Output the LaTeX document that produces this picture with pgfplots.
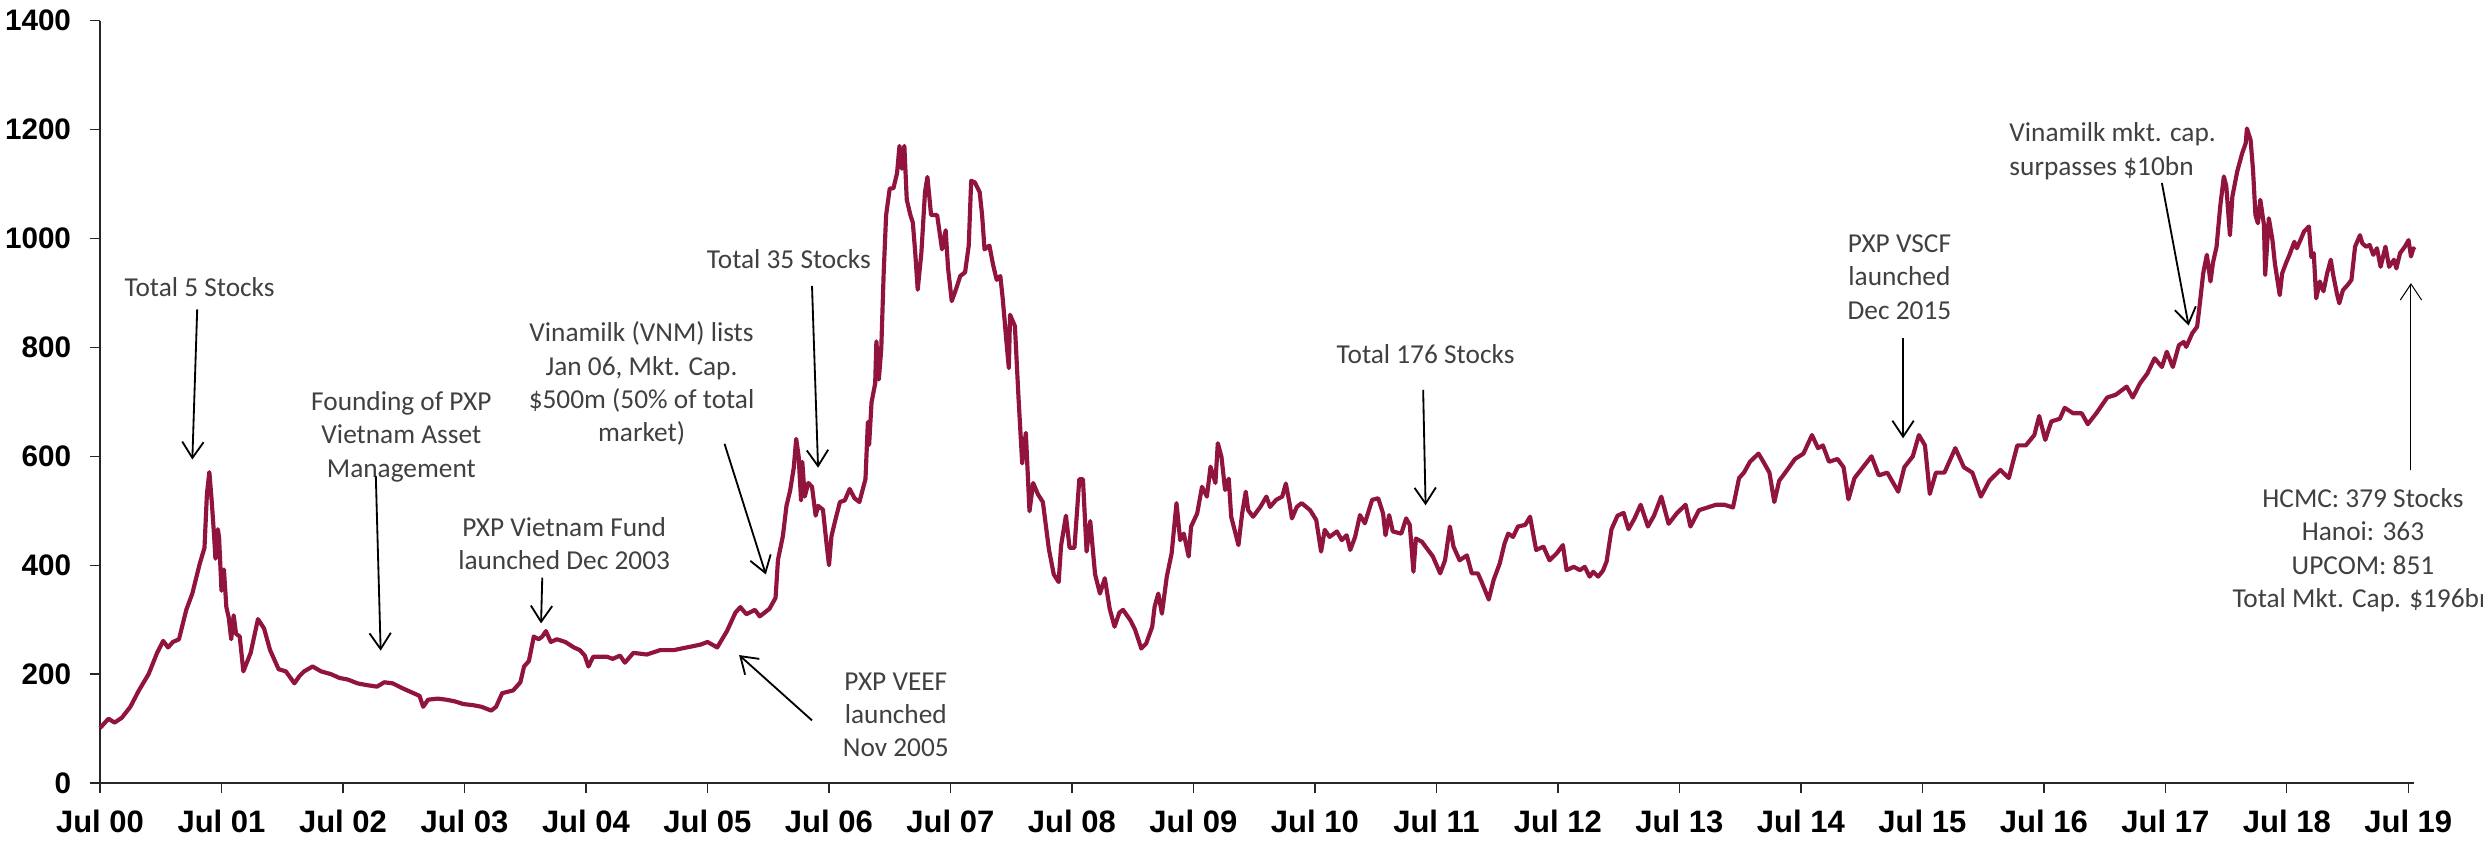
\documentclass[border=0pt]{standalone}
\usepackage{fontspec}
\setmainfont{Liberation Sans}
\newfontfamily\annofont{Carlito}
\usepackage{pgfplots}
\pgfplotsset{compat=1.18}
\usetikzlibrary{arrows.meta}
\definecolor{vnline}{RGB}{145,20,60}
\definecolor{annogray}{RGB}{64,64,64}
\tikzset{
  ar/.style={-{Straight Barb[length=4.8pt,width=6.4pt]}, black, line width=0.55pt},
  anno/.style={font=\annofont\fontsize{8.2}{10}\selectfont, text=annogray, align=center, inner sep=0pt},
}
\pgfplotstableread{
x y
2000.50 101
2000.57 118
2000.62 111
2000.68 120
2000.75 140
2000.82 170
2000.90 200
2000.97 239
2001.02 261
2001.06 249
2001.10 259
2001.15 264
2001.21 318
2001.26 348
2001.32 402
2001.36 432
2001.38 531
2001.40 571
2001.42 516
2001.44 451
2001.45 412
2001.47 466
2001.48 451
2001.50 353
2001.52 392
2001.54 323
2001.56 303
2001.58 264
2001.60 308
2001.62 274
2001.65 269
2001.68 205
2001.74 239
2001.80 301
2001.85 284
2001.90 244
2001.97 209
2002.03 205
2002.10 183
2002.14 196
2002.18 205
2002.25 214
2002.32 205
2002.40 200
2002.47 193
2002.54 190
2002.62 183
2002.69 180
2002.78 177
2002.84 185
2002.91 183
2002.98 175
2003.06 167
2003.13 160
2003.16 140
2003.20 153
2003.28 155
2003.35 153
2003.42 150
2003.49 145
2003.57 143
2003.64 140
2003.72 133
2003.76 140
2003.81 165
2003.90 170
2003.96 185
2003.99 214
2004.03 224
2004.07 269
2004.11 264
2004.14 269
2004.17 279
2004.21 259
2004.26 264
2004.33 259
2004.40 249
2004.45 244
2004.49 234
2004.52 214
2004.56 232
2004.67 232
2004.72 228
2004.78 234
2004.82 221
2004.89 239
2005.00 236
2005.11 244
2005.22 244
2005.33 249
2005.44 254
2005.50 259
2005.58 249
2005.66 279
2005.73 313
2005.77 323
2005.82 310
2005.89 318
2005.93 306
2006.01 320
2006.06 340
2006.08 410
2006.12 453
2006.15 509
2006.18 537
2006.21 579
2006.23 632
2006.25 600
2006.27 519
2006.28 590
2006.30 526
2006.33 551
2006.36 544
2006.39 491
2006.41 509
2006.45 502
2006.48 439
2006.50 400
2006.52 453
2006.55 481
2006.59 516
2006.63 519
2006.67 540
2006.71 523
2006.75 516
2006.80 558
2006.82 663
2006.83 621
2006.85 699
2006.88 734
2006.89 811
2006.91 741
2006.93 797
2006.95 937
2006.97 1043
2007.00 1092
2007.03 1092
2007.06 1120
2007.08 1170
2007.10 1128
2007.12 1170
2007.14 1071
2007.17 1043
2007.19 1029
2007.21 973
2007.23 906
2007.26 973
2007.29 1085
2007.31 1113
2007.34 1043
2007.39 1043
2007.43 980
2007.46 1015
2007.48 945
2007.51 885
2007.55 910
2007.58 931
2007.62 938
2007.65 987
2007.67 1106
2007.70 1103
2007.74 1085
2007.76 1043
2007.78 980
2007.82 987
2007.85 952
2007.88 924
2007.91 931
2007.93 889
2007.96 811
2007.98 762
2007.99 860
2008.03 839
2008.06 706
2008.09 587
2008.12 643
2008.15 499
2008.18 551
2008.22 530
2008.26 516
2008.31 429
2008.35 383
2008.39 369
2008.41 436
2008.45 491
2008.48 432
2008.52 432
2008.56 558
2008.59 558
2008.62 425
2008.65 481
2008.69 383
2008.73 348
2008.77 376
2008.81 320
2008.85 287
2008.89 313
2008.92 318
2008.98 299
2009.02 281
2009.07 247
2009.11 256
2009.16 287
2009.18 324
2009.21 348
2009.24 311
2009.28 379
2009.32 422
2009.36 514
2009.39 446
2009.42 458
2009.46 416
2009.48 471
2009.53 495
2009.57 544
2009.61 526
2009.64 581
2009.68 551
2009.70 624
2009.73 599
2009.76 538
2009.79 559
2009.81 489
2009.87 437
2009.90 495
2009.93 535
2009.95 501
2009.99 489
2010.05 507
2010.10 526
2010.13 507
2010.18 520
2010.23 526
2010.26 550
2010.29 514
2010.31 486
2010.35 507
2010.39 514
2010.46 501
2010.51 483
2010.55 425
2010.58 465
2010.62 452
2010.68 462
2010.72 446
2010.76 455
2010.79 428
2010.83 452
2010.87 492
2010.91 477
2010.97 520
2011.02 523
2011.06 495
2011.08 455
2011.11 492
2011.14 462
2011.21 458
2011.25 486
2011.28 474
2011.31 388
2011.33 449
2011.38 443
2011.43 428
2011.47 416
2011.53 385
2011.57 409
2011.61 471
2011.64 434
2011.69 409
2011.75 418
2011.79 385
2011.84 385
2011.87 370
2011.93 337
2011.97 373
2012.02 403
2012.06 440
2012.09 458
2012.13 452
2012.17 471
2012.23 474
2012.27 489
2012.30 452
2012.32 428
2012.38 434
2012.43 409
2012.49 422
2012.54 437
2012.57 391
2012.63 397
2012.68 391
2012.72 397
2012.76 379
2012.79 388
2012.83 379
2012.87 390
2012.90 407
2012.94 466
2012.99 491
2013.04 496
2013.08 466
2013.13 486
2013.18 511
2013.24 471
2013.29 491
2013.35 526
2013.41 476
2013.48 496
2013.55 511
2013.59 471
2013.66 501
2013.73 506
2013.80 511
2013.87 511
2013.94 506
2013.99 560
2014.03 570
2014.08 590
2014.15 605
2014.19 590
2014.24 570
2014.28 516
2014.32 555
2014.37 570
2014.45 595
2014.52 605
2014.59 639
2014.64 615
2014.68 620
2014.73 590
2014.80 595
2014.85 580
2014.89 521
2014.94 560
2015.01 580
2015.08 600
2015.14 565
2015.21 570
2015.30 535
2015.35 580
2015.42 600
2015.47 639
2015.52 620
2015.56 531
2015.61 570
2015.68 570
2015.77 615
2015.84 580
2015.91 570
2015.98 526
2016.05 555
2016.14 575
2016.21 560
2016.28 620
2016.35 620
2016.42 639
2016.46 674
2016.51 630
2016.56 664
2016.63 669
2016.67 689
2016.74 679
2016.81 679
2016.86 659
2016.93 679
2017.02 708
2017.09 713
2017.18 728
2017.23 708
2017.29 734
2017.35 752
2017.41 780
2017.47 764
2017.51 792
2017.56 764
2017.61 804
2017.65 810
2017.67 801
2017.72 826
2017.76 838
2017.78 876
2017.81 936
2017.84 970
2017.87 921
2017.89 955
2017.92 985
2017.95 1059
2017.98 1114
2018.00 1096
2018.03 1006
2018.05 1077
2018.09 1123
2018.13 1156
2018.16 1175
2018.17 1202
2018.20 1181
2018.22 1126
2018.24 1043
2018.26 1028
2018.28 1071
2018.31 1025
2018.32 933
2018.35 1037
2018.38 997
2018.40 954
2018.44 896
2018.46 936
2018.49 954
2018.52 970
2018.56 994
2018.58 982
2018.61 997
2018.64 1013
2018.68 1022
2018.70 966
2018.72 973
2018.74 890
2018.77 921
2018.80 903
2018.83 936
2018.86 961
2018.88 933
2018.91 899
2018.93 881
2018.96 905
2019.00 915
2019.03 924
2019.06 985
2019.10 1006
2019.12 991
2019.15 985
2019.18 988
2019.21 970
2019.24 982
2019.27 948
2019.31 985
2019.34 948
2019.38 961
2019.40 945
2019.43 973
2019.47 985
2019.50 997
2019.52 967
2019.54 982
2019.55 979
}\vnindex
\begin{document}
\begin{tikzpicture}
\useasboundingbox (0,0) rectangle (744.9pt,252.9pt);
\begin{axis}[
  at={(30pt,18pt)}, anchor=south west,
  scale only axis, width=694.2pt, height=228.7pt,
  xmin=2000.5, xmax=2019.545, ymin=0, ymax=1400,
  axis x line*=bottom, axis y line*=left,
  axis line style={black!85, line width=0.4pt},
  tick align=outside, major tick length=3pt,
  tick style={black!85, line width=0.4pt},
  xtick={2000.5,2001.5,...,2019.5},
  xticklabels={Jul 00,Jul 01,Jul 02,Jul 03,Jul 04,Jul 05,Jul 06,Jul 07,Jul 08,Jul 09,Jul 10,Jul 11,Jul 12,Jul 13,Jul 14,Jul 15,Jul 16,Jul 17,Jul 18,Jul 19},
  ytick={0,200,400,600,800,1000,1200,1400},
  yticklabels={0,200,400,600,800,1000,1200,1400},
  xticklabel style={font=\fontsize{9.3}{11}\selectfont\bfseries, inner sep=0pt, anchor=north, yshift=-5pt},
  yticklabel style={font=\fontsize{8.9}{11}\selectfont\bfseries, inner sep=0pt, anchor=east, xshift=-5.5pt},
  clip=false,
]
\addplot[vnline, line width=1.25pt, line join=round] table[x=x,y=y] {\vnindex};

\node[anno] at (axis cs:2001.32,910) {Total 5 Stocks};
\draw[ar] (axis cs:2001.30,870) -- (axis cs:2001.26,594);

\node[anno] at (axis cs:2002.98,636) {Founding of PXP\\Vietnam Asset\\Management};
\draw[ar] (axis cs:2002.77,564) -- (axis cs:2002.81,243);

\node[anno] at (axis cs:2004.32,439.5) {PXP Vietnam Fund\\launched Dec 2003};
\draw[ar] (axis cs:2004.14,377) -- (axis cs:2004.13,293);

\node[anno] at (axis cs:2004.957,733.5) {Vinamilk (VNM) lists\\Jan 06, Mkt. Cap.\\\$500m (50\% of total\\market)};
\draw[ar] (axis cs:2005.64,623) -- (axis cs:2005.98,383);

\node[anno] at (axis cs:2006.17,962) {Total 35 Stocks};
\draw[ar] (axis cs:2006.36,913) -- (axis cs:2006.41,579);

\node[anno] at (axis cs:2007.05,125) {PXP VEEF\\launched\\Nov 2005};
\draw[ar] (axis cs:2006.36,115) -- (axis cs:2005.76,235);

\node[anno] at (axis cs:2011.41,788) {Total 176 Stocks};
\draw[ar] (axis cs:2011.39,722) -- (axis cs:2011.41,510);

\node[anno] at (axis cs:2015.31,929) {PXP VSCF\\launched\\Dec 2015};
\draw[ar] (axis cs:2015.34,818) -- (axis cs:2015.34,633);

\node[anno, anchor=west, align=left] at (axis cs:2016.21,1160.5) {Vinamilk mkt. cap.\\surpasses \$10bn};
\draw[ar] (axis cs:2017.47,1102) -- (axis cs:2017.69,840);

\node[anno] at (axis cs:2019.125,427.5) {HCMC: 379 Stocks\\Hanoi: 363\\UPCOM: 851\\Total Mkt. Cap. \$196bn};
\draw[ar, line width=0.3pt] (axis cs:2019.52,574) -- (axis cs:2019.52,918);
\end{axis}
\end{tikzpicture}
\end{document}
